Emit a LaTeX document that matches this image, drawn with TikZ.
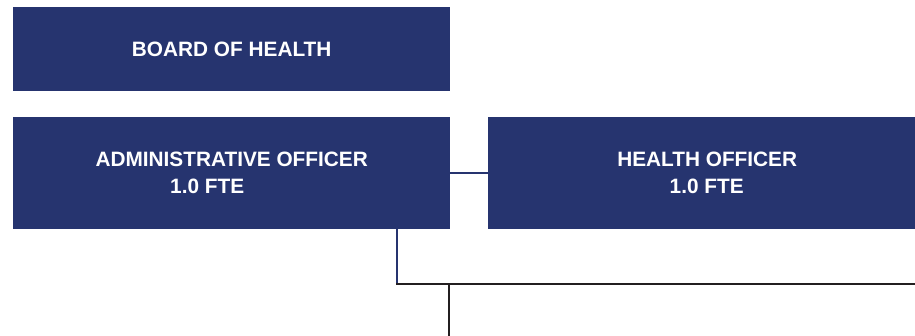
\documentclass[tikz,border=0pt]{standalone}
\usepackage{fontspec}
\setmainfont{Liberation Sans}
\definecolor{navy}{RGB}{38,52,111}
\definecolor{inkBlack}{RGB}{35,31,32}

\begin{document}
\begin{tikzpicture}[x=1pt,y=-1pt,%%
  boxDecorate/.style={%%
    fill=navy,draw=none,text=white,anchor=north west,inner sep=0pt,%%
    align=center,font=\bfseries\fontsize{20.8}{27}\selectfont%%
  },%%
  blueLine/.style={-,draw=navy,line width=1.8pt},%%
  blackLine/.style={-,draw=inkBlack,line width=2pt}%%
]
\useasboundingbox (0,0) rectangle (915,336);
%%
%% Global variables.
\pgfmathsetmacro{\Xa}{13}
\pgfmathsetmacro{\Xb}{488}
\pgfmathsetmacro{\Ya}{7}
\pgfmathsetmacro{\Yb}{117}
\pgfmathsetmacro{\Yc}{284}
%%
%% Top box.
\node[boxDecorate,minimum width=437pt,minimum height=84pt]
  (board) at (\Xa,\Ya) {BOARD OF HEALTH};
%%
%% Second row.
\node[boxDecorate,minimum width=437pt,minimum height=112pt]
  (admin) at (\Xa,\Yb) {ADMINISTRATIVE OFFICER\\1.0 FTE\hspace*{49pt}};
\node[boxDecorate,minimum width=427pt,minimum height=112pt]
  (health) at (\Xb,\Yb) {\hspace*{11pt}HEALTH OFFICER\\\hspace*{10pt}1.0 FTE};
\draw[blueLine] (admin.east) -- (health.west);
%%
%% Drop to the next level.
\coordinate (drop) at (397,\Yc);
\coordinate (rightEnd) at (915,\Yc);
\coordinate (branch) at (449,\Yc);
\coordinate (bottomEnd) at (449,336);
\draw[blueLine] (admin.south -| drop) -- ([yshift=-1pt]drop);
\draw[blackLine] ([xshift=-0.9pt]drop) -- (rightEnd);
\draw[blackLine] (branch) -- (bottomEnd);
\end{tikzpicture}
\end{document}
